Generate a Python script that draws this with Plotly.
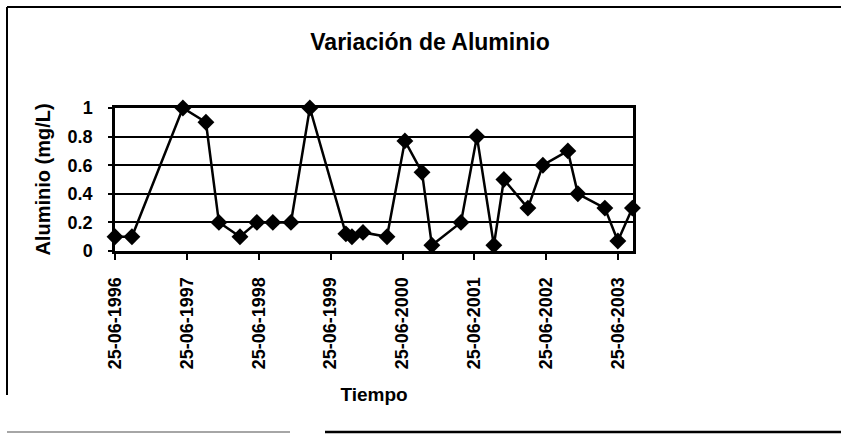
# Variación de Aluminio - recreación del gráfico escaneado
import plotly.graph_objects as go

# ----------------------------------------------------------------------------------------------------------------------
# Datos
# ----------------------------------------------------------------------------------------------------------------------
fechas = ["1996-06-25", "1996-09-19", "1997-06-05", "1997-09-30", "1997-12-05", "1998-03-22",
          "1998-06-16", "1998-09-05", "1998-12-06", "1999-03-12", "1999-09-11", "1999-10-12",
          "1999-12-07", "2000-04-07", "2000-07-07", "2000-10-02", "2000-11-21", "2001-04-18",
          "2001-07-08", "2001-10-02", "2001-11-22", "2002-03-24", "2002-06-08", "2002-10-13",
          "2002-12-03", "2003-04-19", "2003-06-24", "2003-09-06"]
aluminio = [0.1, 0.1, 1.0, 0.9, 0.2, 0.1,
            0.2, 0.2, 0.2, 1.0, 0.12, 0.1,
            0.13, 0.1, 0.77, 0.55, 0.04, 0.2,
            0.8, 0.04, 0.5, 0.3, 0.6, 0.7,
            0.4, 0.3, 0.07, 0.3]

ticks_x = ["1996-06-25", "1997-06-25", "1998-06-25", "1999-06-25",
           "2000-06-25", "2001-06-25", "2002-06-25", "2003-06-25"]
etiquetas_x = ["25-06-1996", "25-06-1997", "25-06-1998", "25-06-1999",
               "25-06-2000", "25-06-2001", "25-06-2002", "25-06-2003"]
ticks_y = [0, 0.2, 0.4, 0.6, 0.8, 1]

# ----------------------------------------------------------------------------------------------------------------------
# Configuración
# ----------------------------------------------------------------------------------------------------------------------
W, H = 841, 436
ML, MR, MT, MB = 115, 208, 108, 185
FUENTE = "Arial, Liberation Sans, sans-serif"


def px_x(x):
    # pixel horizontal -> coordenada paper
    return (x - ML) / (W - ML - MR)


def px_y(y):
    # pixel vertical -> coordenada paper
    return (H - MB - y) / (H - MT - MB)


fig = go.Figure()
fig.add_trace(go.Scatter(x=fechas, y=aluminio, mode="lines+markers",
                         line=dict(color="black", width=2.5),
                         marker=dict(symbol="diamond", size=13, color="black"),
                         cliponaxis=False, showlegend=False))

fig.update_layout(
    width=W, height=H,
    margin=dict(l=ML, r=MR, t=MT, b=MB, autoexpand=False),
    paper_bgcolor="white", plot_bgcolor="white",
    font=dict(family=FUENTE, color="black"),
    title=dict(text="<b>Variación de Aluminio</b>", x=430 / W, xanchor="center",
               y=1 - 42 / H, yanchor="middle", font=dict(size=23)),
)

fig.update_xaxes(range=["1996-06-25", "2003-09-09"], tickvals=ticks_x, ticktext=etiquetas_x,
                 tickangle=-90, tickfont=dict(size=18, family=FUENTE, weight="bold"),
                 ticks="outside", ticklen=6, tickwidth=2, tickcolor="black", ticklabelstandoff=10,
                 showgrid=False, zeroline=False,
                 showline=True, linewidth=3, linecolor="black", mirror=True,
                 title=dict(text="<b>Tiempo</b>", font=dict(size=19), standoff=20))

fig.update_yaxes(range=[0, 1], tickvals=ticks_y, ticktext=["%g" % v for v in ticks_y],
                 tickfont=dict(size=18, family=FUENTE, weight="bold"),
                 ticks="outside", ticklen=4, tickwidth=2, tickcolor="black", ticklabelstandoff=12,
                 showgrid=True, gridcolor="black", gridwidth=1.5, zeroline=False,
                 showline=True, linewidth=2.5, linecolor="black", mirror=True,
                 title=dict(text="<b>Aluminio (mg/L)</b>", font=dict(size=20), standoff=12))

# Marco del escaneo
marco = [
    (7, 7, 841, 7, "black", 2),
    (7, 7, 7, 395, "black", 2),
    (7, 432, 290, 432, "#888888", 1.5),
    (325, 432, 841, 432, "black", 2.5),
]
for x0, y0, x1, y1, col, ancho in marco:
    fig.add_shape(type="line", xref="paper", yref="paper",
                  x0=px_x(x0), y0=px_y(y0), x1=px_x(x1), y1=px_y(y1),
                  line=dict(color=col, width=ancho))

# quitar el margen del body para que la figura empiece en (0, 0)
fig.write_html("out.html", config={"displayModeBar": False},
               post_script="document.body.style.margin='0';")
